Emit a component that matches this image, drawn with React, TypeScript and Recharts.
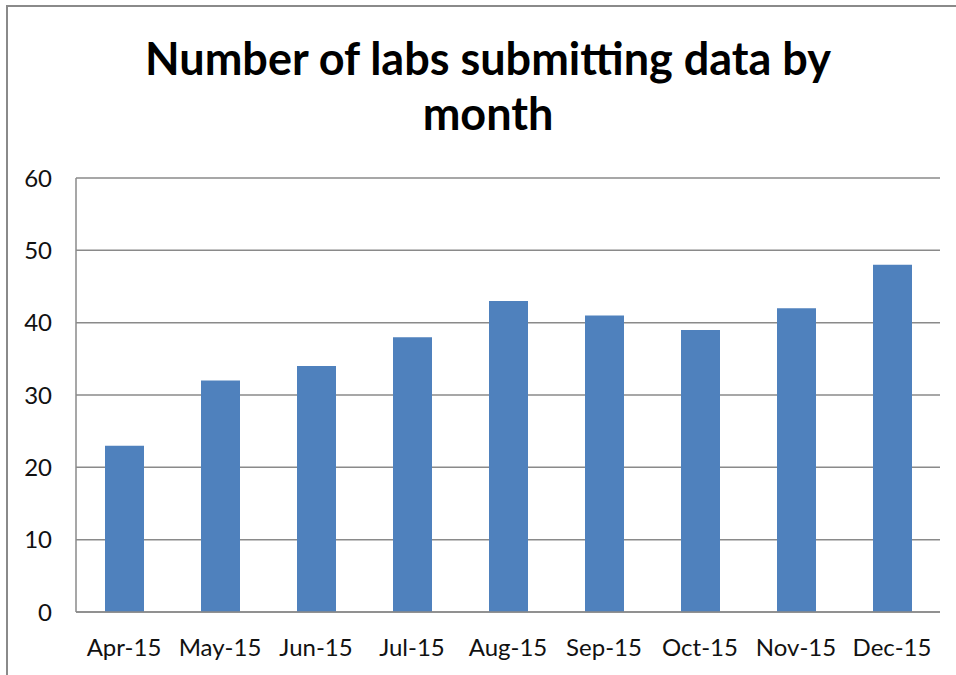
import { BarChart, Bar, XAxis, YAxis, CartesianGrid } from "recharts"

// Monthly counts
const months = ["Apr-15", "May-15", "Jun-15", "Jul-15", "Aug-15", "Sep-15", "Oct-15", "Nov-15", "Dec-15"]
const labCounts = [23, 32, 34, 38, 43, 41, 39, 42, 48]
const yTicks = [0, 10, 20, 30, 40, 50, 60]

const data = months.map((month, i) => ({ month, labs: labCounts[i] }))

const font = "Lato, 'Open Sans', sans-serif"

export default function App() {
  return (
    <div
      style={{
        position: "fixed",
        left: 0,
        top: 0,
        width: 956,
        height: 675,
        background: "#fff",
        fontFamily: font,
        overflow: "hidden",
      }}
    >
      {/* chart frame: only top and left edges visible in the crop */}
      <div
        style={{
          position: "absolute",
          left: 6,
          top: 5,
          width: 960,
          height: 680,
          borderTop: "2px solid #8a8a8a",
          borderLeft: "2px solid #8a8a8a",
        }}
      />
      <div
        style={{
          position: "absolute",
          left: 0,
          top: 31,
          width: 976,
          textAlign: "center",
          fontWeight: 700,
          fontSize: 45,
          lineHeight: "55px",
          color: "#000",
        }}
      >
        Number of labs submitting data by
        <br />
        month
      </div>
      <div style={{ position: "absolute", left: 0, top: 0 }}>
        <BarChart
          width={956}
          height={675}
          data={data}
          margin={{ top: 178, right: 16, bottom: 0, left: 0 }}
          barCategoryGap={0}
        >
          <CartesianGrid vertical={false} stroke="#8a8a8a" strokeWidth={1.5} />
          <XAxis
            dataKey="month"
            stroke="#8a8a8a"
            strokeWidth={1.5}
            tickLine={false}
            tickSize={0}
            tickMargin={27}
            tick={{ fill: "#111", fontSize: 24, fontFamily: font }}
            interval={0}
            height={63}
          />
          <YAxis
            domain={[0, 60]}
            ticks={yTicks}
            width={76}
            stroke="#8a8a8a"
            strokeWidth={1.5}
            tickLine={false}
            tickSize={0}
            tickMargin={24}
            tick={{ fill: "#111", fontSize: 24, fontFamily: font }}
          />
          <Bar dataKey="labs" fill="#4f81bd" barSize={39} isAnimationActive={false} />
        </BarChart>
      </div>
    </div>
  )
}
